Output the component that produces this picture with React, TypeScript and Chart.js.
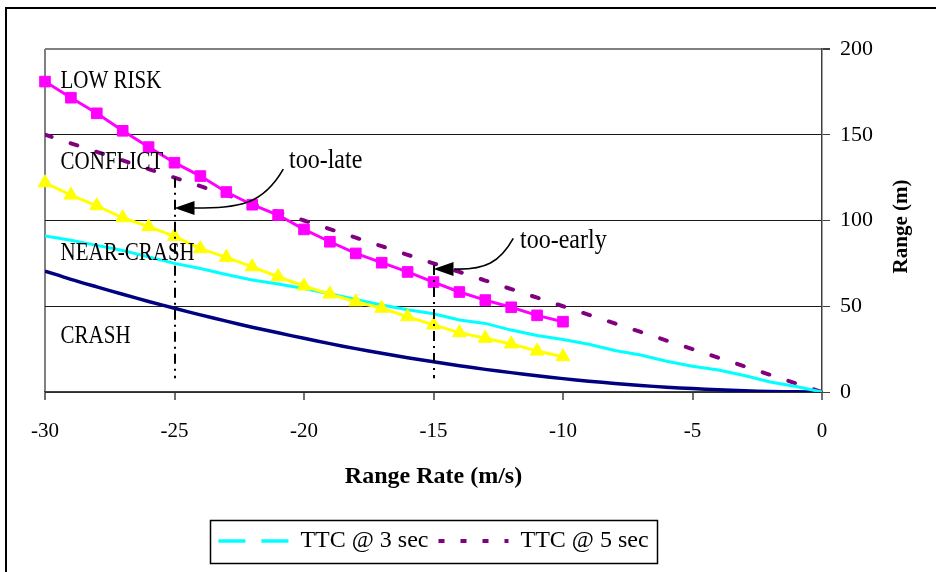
import React, { useEffect, useRef } from "react";
import { Chart, registerables } from "chart.js";

Chart.register(...registerables);

// ---------- data ----------
const rangeRates = [-30, -29, -28, -27, -26, -25, -24, -23, -22, -21, -20, -19, -18, -17, -16, -15, -14, -13, -12, -11, -10, -9, -8, -7, -6, -5, -4, -3, -2, -1, 0];
const markerRates = [-30, -29, -28, -27, -26, -25, -24, -23, -22, -21, -20, -19, -18, -17, -16, -15, -14, -13, -12, -11, -10];

const lowRiskBoundary = [181, 171.6, 162.5, 152.3, 142.8, 133.7, 125.9, 116.6, 109.2, 103.2, 94.8, 87.6, 80.8, 75.4, 70.0, 64.1, 58.3, 53.6, 49.4, 44.7, 41.0];
const conflictBoundary = [122, 114.8, 108.6, 101.6, 96.4, 90.8, 83.6, 78.5, 73.0, 67.2, 61.8, 57.1, 52.6, 48.8, 43.9, 39.1, 34.6, 31.3, 28.0, 23.9, 20.6];
const ttc3 = [91, 88.5, 85.5, 82.5, 78.8, 75, 72, 68.5, 65.3, 63, 60.4, 57.3, 54, 50.7, 48, 45.6, 42, 40, 36.1, 33, 30.6, 27.8, 24.2, 21.6, 17.9, 15, 12.8, 9.6, 5.8, 3.2, 0];
const crashBoundary = [70.5, 65.7, 61.3, 57, 52.8, 48.8, 45, 41.3, 37.8, 34.5, 31.3, 28.2, 25.3, 22.6, 20, 17.6, 15.3, 13.2, 11.3, 9.5, 7.8, 6.3, 5, 3.8, 2.8, 2, 1.3, 0.7, 0.3, 0.1, 0];
const ttc5 = [150, 145, 140, 135, 130, 125, 120, 115, 110, 105, 100, 95, 90, 85, 80, 75, 70, 65, 60, 55, 50, 45, 40, 35, 30, 25, 20, 15, 10, 5, 0];

const legendLabels = ["TTC @ 3 sec", "TTC @ 5 sec"];
const zoneLabels = ["LOW RISK", "CONFLICT", "NEAR-CRASH", "CRASH"];
const zoneLabelRanges = [181, 133.5, 80.4, 32];
const zoneLabelRate = -29.4;

// vertical reference lines: rate, top range, bottom range
const markerLineRates = [-25, -15];
const markerLineTops = [125, 74];
const markerLineBottoms = [8, 8];

const annotationTexts = ["too-late", "too-early"];
const annotationTextRates = [-20.58, -11.66];
const annotationTextRanges = [134.7, 88];
// arrow curves: [start, ctrl1, ctrl2, end(head base)], tip
const arrowCurves = [
  [[-20.8, 130], [-21.6, 109], [-22.5, 107.3], [-24.25, 107.3]],
  [[-11.92, 89.6], [-12.43, 75.8], [-13.0, 71.1], [-14.2, 71.7]],
];
const arrowTips = [[-25, 107.3], [-15, 71.7]];

const FONT = "'Liberation Serif', 'Times New Roman', Times, serif";

function stretchedText(ctx: any, text: string, x: number, y: number, sy: number) {
  ctx.save();
  ctx.translate(x, y);
  ctx.scale(1, sy);
  ctx.fillText(text, 0, 0);
  ctx.restore();
}

const overlayPlugin = {
  id: "overlay",
  afterDatasetsDraw(chart: any) {
    const { ctx, scales } = chart;
    const xs = scales.x;
    const ys = scales.y;
    const px = (v: number) => xs.getPixelForValue(v);
    const py = (v: number) => ys.getPixelForValue(v);

    // dash-dot verticals
    ctx.save();
    ctx.strokeStyle = "#000";
    ctx.lineWidth = 2;
    ctx.setLineDash([10, 5, 2, 5]);
    markerLineRates.forEach((r, i) => {
      ctx.beginPath();
      ctx.moveTo(Math.round(px(r)), py(markerLineTops[i]));
      ctx.lineTo(Math.round(px(r)), py(markerLineBottoms[i]));
      ctx.stroke();
    });
    ctx.restore();

    // arrows
    ctx.save();
    ctx.strokeStyle = "#000";
    ctx.fillStyle = "#000";
    ctx.lineWidth = 1.6;
    arrowCurves.forEach((c, i) => {
      ctx.beginPath();
      ctx.moveTo(px(c[0][0]), py(c[0][1]));
      ctx.bezierCurveTo(px(c[1][0]), py(c[1][1]), px(c[2][0]), py(c[2][1]), px(c[3][0]), py(c[3][1]));
      ctx.stroke();
      const tx = px(arrowTips[i][0]);
      const ty = py(arrowTips[i][1]);
      ctx.beginPath();
      ctx.moveTo(tx, ty);
      ctx.lineTo(tx + 20, ty - 7);
      ctx.lineTo(tx + 20, ty + 7);
      ctx.closePath();
      ctx.fill();
    });
    ctx.restore();

    // zone labels
    ctx.save();
    ctx.fillStyle = "#000";
    ctx.textBaseline = "middle";
    ctx.textAlign = "left";
    ctx.font = `21px ${FONT}`;
    zoneLabels.forEach((t, i) => {
      stretchedText(ctx, t, px(zoneLabelRate), py(zoneLabelRanges[i]), 1.15);
    });
    ctx.font = `24px ${FONT}`;
    annotationTexts.forEach((t, i) => {
      stretchedText(ctx, t, px(annotationTextRates[i]), py(annotationTextRanges[i]), 1.1);
    });
    ctx.restore();
  },
  afterDraw(chart: any) {
    const { ctx, chartArea } = chart;
    ctx.save();
    // outer frame
    ctx.strokeStyle = "#000";
    ctx.lineWidth = 2;
    ctx.beginPath();
    ctx.moveTo(6, chart.height);
    ctx.lineTo(6, 8);
    ctx.lineTo(chart.width, 8);
    ctx.stroke();

    // y axis title (reads bottom to top)
    ctx.fillStyle = "#000";
    ctx.font = `bold 21px ${FONT}`;
    ctx.textAlign = "center";
    ctx.textBaseline = "middle";
    ctx.translate(902, (chartArea.top + chartArea.bottom) / 2 + 6);
    ctx.rotate(-Math.PI / 2);
    ctx.fillText("Range (m)", 0, 0);
    ctx.restore();

    // legend border
    const lg = chart.legend;
    if (lg && lg.legendHitBoxes && lg.legendHitBoxes.length) {
      const hb = lg.legendHitBoxes;
      const last = hb[hb.length - 1];
      const l = hb[0].left - 8;
      const r = last.left + last.width + 9;
      const cy = lg.top + 10 + 12;
      ctx.save();
      ctx.strokeStyle = "#000";
      ctx.lineWidth = 1.5;
      ctx.strokeRect(Math.round(l) + 0.5, Math.round(cy - 21) + 0.5, Math.round(r - l), 43);
      ctx.restore();
    }
  },
};

export default function App() {
  const canvasRef = useRef<HTMLCanvasElement | null>(null);

  useEffect(() => {
    if (!canvasRef.current) return;
    Chart.defaults.font.family = FONT;
    const pts = (xs: number[], ys: number[]) => xs.map((x, i) => ({ x, y: ys[i] }));

    const chart = new Chart(canvasRef.current, {
      type: "line",
      data: {
        datasets: [
          {
            label: "LOW RISK boundary",
            data: pts(markerRates, lowRiskBoundary),
            borderColor: "#FF00FF",
            backgroundColor: "#FF00FF",
            pointBackgroundColor: "#FF00FF",
            pointBorderColor: "#FF00FF",
            borderWidth: 3,
            pointStyle: "rect",
            pointRadius: 7.5,
            pointBorderWidth: 1,
            tension: 0,
            clip: false,
          },
          {
            label: "CONFLICT boundary",
            data: pts(markerRates, conflictBoundary),
            borderColor: "#FFFF00",
            backgroundColor: "#FFFF00",
            pointBackgroundColor: "#FFFF00",
            pointBorderColor: "#FFFF00",
            borderWidth: 3,
            pointStyle: "triangle",
            pointRadius: 8,
            pointBorderWidth: 1,
            tension: 0,
            clip: false,
          },
          {
            label: legendLabels[0],
            data: pts(rangeRates, ttc3),
            borderColor: "#00FFFF",
            backgroundColor: "#00FFFF",
            borderWidth: 3,
            pointRadius: 0,
            tension: 0,
          },
          {
            label: "CRASH boundary",
            data: pts(rangeRates, crashBoundary),
            borderColor: "#000080",
            backgroundColor: "#000080",
            borderWidth: 3.5,
            pointRadius: 0,
            tension: 0.3,
          },
          {
            label: legendLabels[1],
            data: pts(rangeRates, ttc5),
            borderColor: "#800080",
            backgroundColor: "#800080",
            borderWidth: 4,
            borderDash: [7, 20],
            borderCapStyle: "round",
            pointRadius: 0,
            tension: 0,
          },
        ],
      },
      options: {
        animation: false,
        responsive: false,
        maintainAspectRatio: false,
        devicePixelRatio: 1,
        layout: { padding: { left: 45, top: 49, right: 0, bottom: 9 } },
        plugins: {
          tooltip: { enabled: false },
          legend: {
            position: "bottom",
            fullSize: false,
            labels: {
              usePointStyle: true,
              pointStyleWidth: 70,
              padding: 10,
              color: "#000",
              font: { family: FONT, size: 24 },
              generateLabels: () => [
                {
                  text: legendLabels[0],
                  fillStyle: "#00FFFF",
                  strokeStyle: "#00FFFF",
                  lineWidth: 3.5,
                  lineDash: [27, 16],
                  lineCap: "butt",
                  pointStyle: "line",
                  hidden: false,
                  datasetIndex: 2,
                  fontColor: "#000",
                },
                {
                  text: legendLabels[1],
                  fillStyle: "#800080",
                  strokeStyle: "#800080",
                  lineWidth: 4,
                  lineDash: [6, 16],
                  lineCap: "butt",
                  pointStyle: "line",
                  hidden: false,
                  datasetIndex: 4,
                  fontColor: "#000",
                },
              ],
            },
          },
        },
        scales: {
          x: {
            type: "linear",
            min: -30,
            max: 0,
            afterFit: (s: any) => {
              s.height = 127;
            },
            ticks: {
              stepSize: 5,
              padding: 19,
              color: "#000",
              font: { family: FONT, size: 21 },
              maxRotation: 0,
            },
            grid: {
              drawOnChartArea: true,
              color: (c: any) => (c.index === 0 ? "#808080" : "rgba(0,0,0,0)"),
              lineWidth: 2,
              tickColor: "#404040",
              tickWidth: 1.5,
              tickLength: 8,
            },
            border: { color: "#404040", width: 1.5 },
            title: {
              display: true,
              text: "Range Rate (m/s)",
              color: "#000",
              font: { family: FONT, size: 24, weight: "bold" },
              padding: { top: 4, bottom: 28 },
            },
          },
          y: {
            position: "right",
            min: 0,
            max: 200,
            afterFit: (s: any) => {
              s.width = 114;
            },
            ticks: {
              stepSize: 50,
              padding: 10,
              color: "#000",
              font: { family: FONT, size: 22 },
            },
            grid: {
              color: (c: any) => (c.tick && c.tick.value === 200 ? "#808080" : "#1a1a1a"),
              lineWidth: (c: any) => (c.tick && c.tick.value === 200 ? 2 : 1),
              tickColor: "#404040",
              tickLength: 8,
            },
            border: { color: "#404040", width: 1.5 },
          },
        },
      },
      plugins: [overlayPlugin],
    } as any);

    return () => chart.destroy();
  }, []);

  return (
    <div style={{ position: "absolute", left: 0, top: 0, width: 936, height: 572, background: "#fff" }}>
      <canvas ref={canvasRef} width={936} height={572} style={{ width: 936, height: 572, display: "block" }} />
    </div>
  );
}
